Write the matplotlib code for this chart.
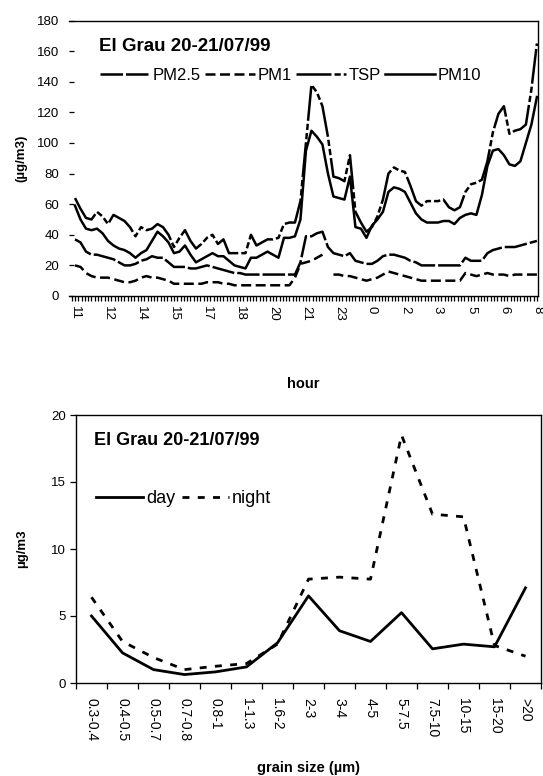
import numpy as np
import matplotlib
matplotlib.use("Agg")
import matplotlib.pyplot as plt
from matplotlib.ticker import MultipleLocator, FixedLocator

plt.rcParams['font.family'] = ['Liberation Sans', 'DejaVu Sans']

# ---------------- top chart data (15-min steps, 11:00 -> 8:00) ----------------
step_h = 0.25
hour_labels = ["11", "12", "14", "15", "17", "18", "20", "21", "23",
               "0", "2", "3", "5", "6", "8"]
nan = np.nan
tsp = [64, 57, 51, 50, 55, 52, 47, 53, 51, 49, 45, 39, 45, 43, 44, 47,
       45, 40, 32, 38, 43, 36, 31, 34, 38, 40, 34, 37, 28, 28, 28, 28,
       40, 33, 35, 37, 37, 38, 47, 48, 48, 62, 100, 138, 133, 124, 104, 78,
       77, 75, 92, 55, 48, 42, 45, 52, 63, 80, 84, 82, 81, 72, 62, 59,
       62, 62, 62, 63, 58, 56, 58, 68, 73, 74, 76, 88, 107, 119, 124, 106,
       108, 109, 112, 135, 165]
pm10 = [59, 50, 44, 43, 44, 41, 36, 33, 31, 30, 28, 25, 28, 30, 36, 42,
        39, 35, 28, 29, 33, 27, 22, 24, 26, 28, 26, 26, 23, 20, 19, 18,
        25, 25, 27, 29, 27, 25, 38, 38, 39, 50, 95, 108, 104, 99, 80, 65,
        64, 63, 78, 45, 44, 38, 46, 50, 55, 68, 71, 70, 68, 61, 54, 50,
        48, 48, 48, 49, 49, 47, 51, 53, 54, 53, 66, 85, 95, 96, 92, 86,
        85, 88, 100, 112, 130]
pm25 = [37, 35, 29, 27, 27, 26, 25, 24, 22, 20, 20, 21, 23, 24, 26, 25,
        25, 22, 19, 19, 19, 18, 18, 19, 20, 19, 18, 17, 16, 15, 15, 14,
        14, 14, 14, 14, 14, 14, 14, 14, 14, 22, 39, 39, 41, 42, 32, 28,
        27, 26, 28, 23, 22, 21, 21, 23, 26, 27, 27, 26, 25, 23, 22, 20,
        20, 20, 20, 20, 20, 20, 20, 25, 23, 23, 23, 28, 30, 31, 32, 32,
        32, 33, 34, 35, 36]
pm1 = [20, 19, 15, 13, 12, 12, 12, 11, 10, 9, 9, 10, 12, 13, 12, 12,
       11, 10, 8, 8, 8, 8, 8, 8, 9, 9, 9, 8, 8, 7, 7, 7,
       7, 7, 7, 7, 7, 7, 7, 7, 12, 21, 22, 23, 25, 27, nan, 14,
       14, 13, 13, 12, 11, 10, 11, 12, 14, 16, 15, 14, 13, 12, 11, 10,
       10, 10, 10, 10, 10, 10, 10, 15, 14, 13, 14, 15, 14, 14, 14, 13,
       14, 14, 14, 14, 14]

# ---------------- bottom chart data ----------------
grain_sizes = ["0.3-0.4", "0.4-0.5", "0.5-0.7", "0.7-0.8", "0.8-1", "1-1.3",
               "1.6-2", "2-3", "3-4", "4-5", "5-7.5", "7.5-10", "10-15",
               "15-20", ">20"]
day = [5.0, 2.25, 1.0, 0.63, 0.83, 1.2, 3.0, 6.5, 3.9, 3.1, 5.25, 2.55,
       2.9, 2.7, 7.1]
night = [6.4, 3.1, 1.9, 1.0, 1.25, 1.45, 2.9, 7.75, 7.9, 7.75, 18.5, 12.6,
         12.4, 2.8, 2.0]

W, H = 543, 776
fig = plt.figure(figsize=(W / 100, H / 100), dpi=100)

def fx(px):
    return px / W

def fy(py):
    return 1 - py / H

# ---------------- top axes ----------------
ax1 = fig.add_axes([fx(69), fy(296), fx(538) - fx(69), fy(20.5) - fy(296)])
hours = np.arange(len(tsp)) * step_h
lw = 1.8
ax1.plot(hours, pm25, color='black', lw=lw, dashes=(9, 1.2), label='PM2.5')
ax1.plot(hours, pm1, color='black', lw=lw, dashes=(4, 1.8), label='PM1')
ax1.plot(hours, tsp, color='black', lw=lw, dashes=(14, 1.2, 2.5, 1.2, 2.5, 1.2),
         label='TSP')
ax1.plot(hours, pm10, color='black', lw=lw, label='PM10')

ax1.set_xlim(-6 / 22, 21.05)
ax1.set_ylim(0, 180)
ax1.yaxis.set_major_locator(MultipleLocator(20))
major_pos = np.arange(len(hour_labels)) * 1.5
ax1.xaxis.set_major_locator(FixedLocator(major_pos))
ax1.set_xticklabels(hour_labels, rotation=270, fontsize=9.5)
ax1.xaxis.set_minor_locator(MultipleLocator(0.15))
ax1.tick_params(axis='x', which='both', direction='out', length=3.5,
                width=0.9, pad=4)
ax1.tick_params(axis='y', which='major', direction='in', length=3.5,
                width=0.9, labelsize=9.5, pad=7)
ax1.spines['left'].set_visible(False)
for s in ['top', 'right', 'bottom']:
    ax1.spines[s].set_linewidth(1.0)

ax1.text(0.065, 0.905, "El Grau 20-21/07/99", transform=ax1.transAxes,
         fontsize=13.5, fontweight='bold', ha='left', va='center')
ax1.legend(loc='upper left', bbox_to_anchor=(0.045, 0.865), ncol=4,
           frameon=False, fontsize=12, handlelength=3.0,
           handletextpad=0.15, columnspacing=0.25, borderpad=0.1)
ax1.set_xlabel("hour", fontsize=10.5, fontweight='bold', labelpad=40)
ax1.set_ylabel("(µg/m3)", fontsize=9.5, fontweight='bold', labelpad=7)

# ---------------- bottom axes ----------------
ax2 = fig.add_axes([fx(76), fy(683), fx(541) - fx(76), fy(415) - fy(683)])
xi = np.arange(len(grain_sizes))
ax2.plot(xi, day, color='black', lw=2.0, label='day')
ax2.plot(xi, night, color='black', lw=2.0, dashes=(2.5, 3), label='night')
ax2.set_xlim(-0.5, len(grain_sizes) - 0.5)
ax2.set_ylim(0, 20)
ax2.yaxis.set_major_locator(MultipleLocator(5))
ax2.set_xticks(xi)
ax2.set_xticklabels(grain_sizes, rotation=270, fontsize=10)
ax2.set_xticks(np.arange(len(grain_sizes) + 1) - 0.5, minor=True)
ax2.tick_params(axis='x', which='major', length=0, pad=11)
ax2.tick_params(axis='x', which='minor', direction='out', length=4, width=0.9)
ax2.tick_params(axis='y', direction='out', length=4, width=0.9, labelsize=9.5)
for s in ['top', 'right', 'bottom', 'left']:
    ax2.spines[s].set_linewidth(1.0)

ax2.text(0.038, 0.905, "El Grau 20-21/07/99", transform=ax2.transAxes,
         fontsize=13, fontweight='bold', ha='left', va='center')
ax2.legend(loc='upper left', bbox_to_anchor=(0.02, 0.76), ncol=2,
           frameon=False, fontsize=13, handlelength=2.6,
           handletextpad=0.15, columnspacing=0.4, borderpad=0.1)
ax2.set_xlabel("grain size (µm)", fontsize=10.5, fontweight='bold', labelpad=14)
ax2.set_ylabel("µg/m3", fontsize=9.5, fontweight='bold', labelpad=16)

fig.savefig("out.png", dpi=100)
